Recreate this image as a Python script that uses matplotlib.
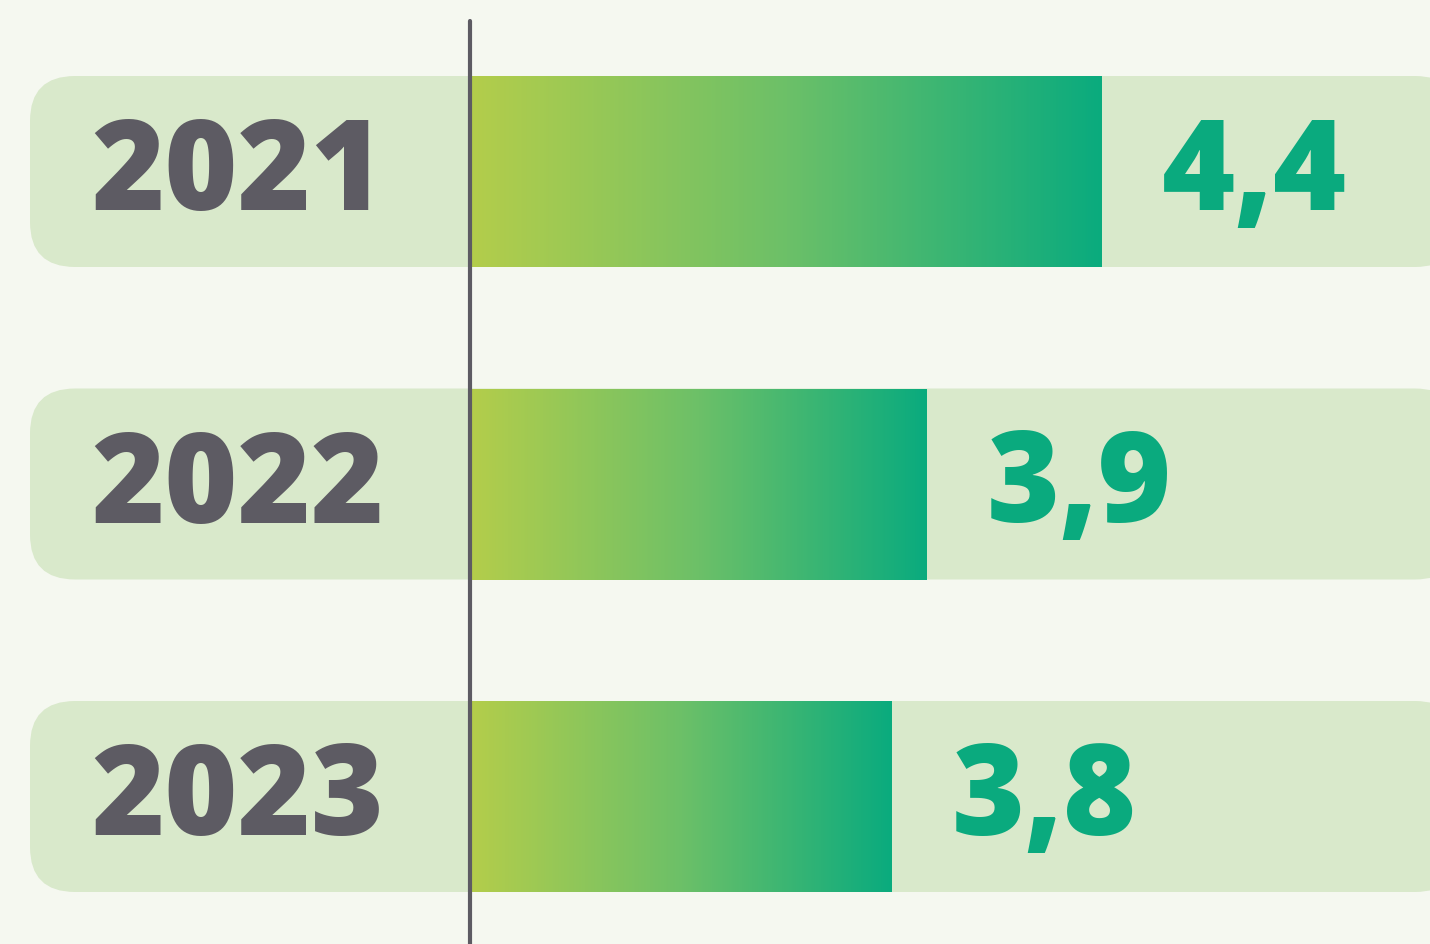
import numpy as np
import matplotlib

matplotlib.use('Agg')
import matplotlib.pyplot as plt
from matplotlib.colors import LinearSegmentedColormap
from matplotlib.patches import FancyBboxPatch, Rectangle

# data
years = ['2021', '2022', '2023']
values = [4.4, 3.9, 3.8]
value_labels = ['4,4', '3,9', '3,8']
baseline = 2.6

bg_color = '#f5f8f0'
band_color = '#d9e9cb'
text_gray = '#5d5b63'
teal = '#0aaa7e'
cmap = LinearSegmentedColormap.from_list('grn', ['#b3cd4b', '#6cc068', '#0aab7e'])

W, H = 1430, 945
px_x = 350.0   # pixels per value unit
px_y = 312.5   # pixels per category step
x0 = baseline - 472 / px_x
y_top = -172.5 / px_y

fig = plt.figure(figsize=(W / 100, H / 100), dpi=100, facecolor=bg_color)
ax = fig.add_axes([0, 0, 1, 1])
ax.set_facecolor(bg_color)
ax.set_xlim(x0, x0 + W / px_x)
ax.set_ylim(y_top + H / px_y, y_top)
ax.axis('off')

bar_h = 191 / px_y
aspect = px_x / px_y
radius = 45 / px_x
grad = np.linspace(0, 1, 256).reshape(1, -1)
font = ['Open Sans', 'DejaVu Sans']

for i, (yr, v, lab) in enumerate(zip(years, values, value_labels)):
    # background band
    band = FancyBboxPatch((30 / px_x + x0, i - bar_h / 2), (1460 - 30) / px_x, bar_h,
                          boxstyle=f'round,pad=0,rounding_size={radius}',
                          mutation_aspect=aspect, facecolor=band_color,
                          edgecolor='none', zorder=1)
    ax.add_patch(band)

    # gradient bar
    im = ax.imshow(grad, cmap=cmap, aspect='auto', interpolation='bicubic',
                   extent=(baseline, v, i + bar_h / 2, i - bar_h / 2), zorder=2)
    clip = Rectangle((baseline, i - bar_h / 2), v - baseline, bar_h,
                     transform=ax.transData, visible=False)
    ax.add_patch(clip)
    im.set_clip_path(clip)

    ax.text(x0 + 238 / px_x, i + 0.12, yr, ha='center', va='baseline',
            fontsize=90, fontweight='heavy', color=text_gray,
            family=font, zorder=3)
    ax.text(v + 0.17, i + 0.12, lab, ha='left', va='baseline',
            fontsize=90, fontweight='heavy', color=teal,
            family=font, zorder=3)

ax.plot([baseline - 2 / px_x] * 2, [y_top + 22 / px_y, y_top + H / px_y + 0.1],
        color=text_gray, lw=3, solid_capstyle='round', zorder=4)

fig.savefig('out.png', dpi=100, facecolor=bg_color)
